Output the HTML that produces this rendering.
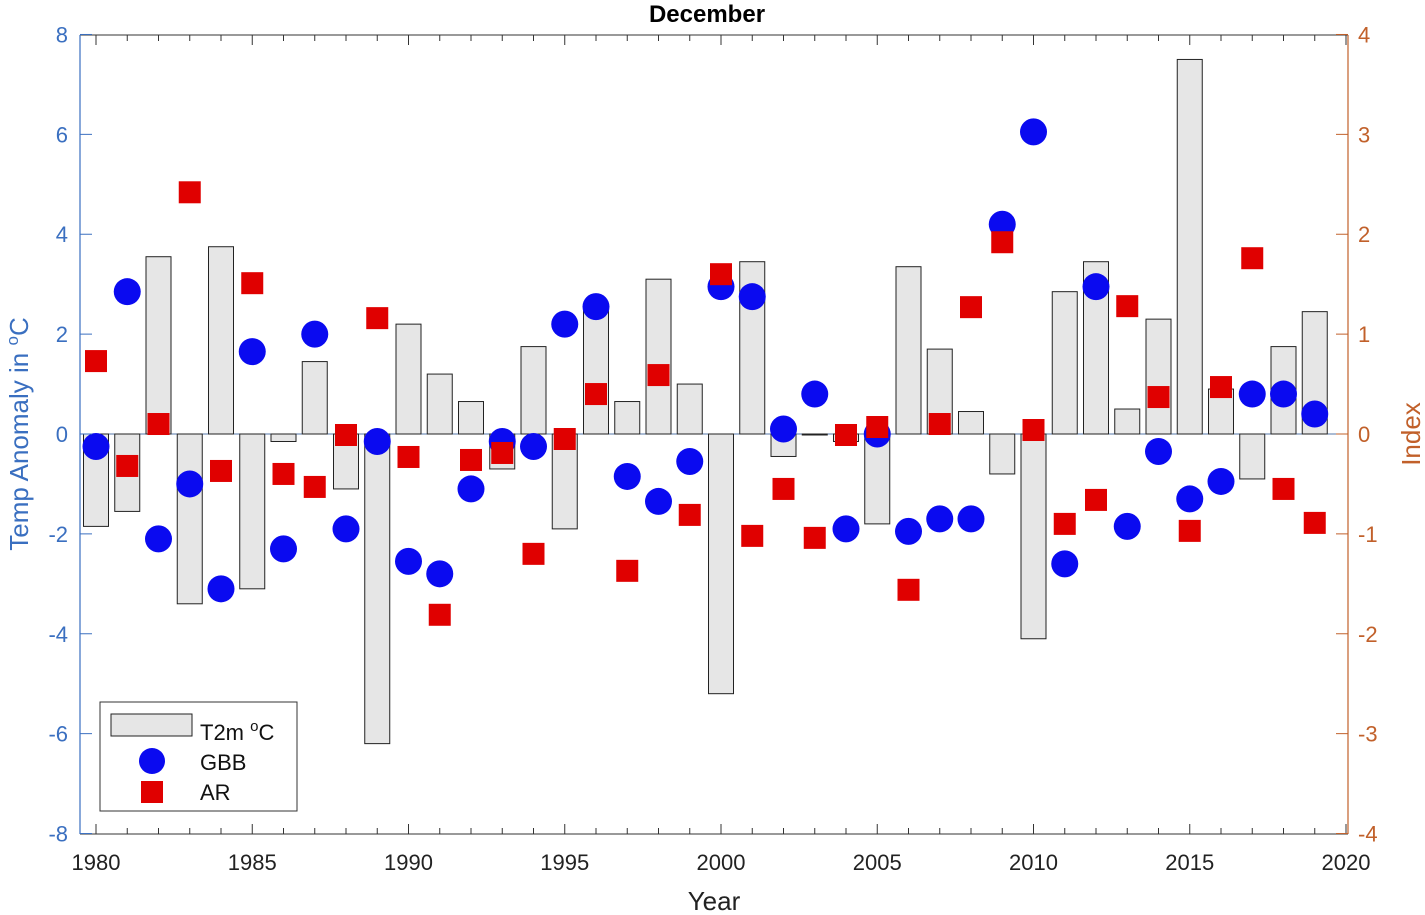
<!DOCTYPE html>
<html><head><meta charset="utf-8"><style>
body{margin:0;background:#fff;}
svg{display:block;font-family:"Liberation Sans",sans-serif;}
</style></head><body>
<svg id="chart" width="1425" height="915"></svg>
<script>
const years=[];for(let y=1980;y<=2019;y++)years.push(y);
const t2m=[-1.85,-1.55,3.55,-3.4,3.75,-3.1,-0.15,1.45,-1.1,-6.2,2.2,1.2,0.65,-0.7,1.75,-1.9,2.55,0.65,3.1,1.0,-5.2,3.45,-0.45,-0.02,-0.15,-1.8,3.35,1.7,0.45,-0.8,-4.1,2.85,3.45,0.5,2.3,7.5,0.9,-0.9,1.75,2.45];
const gbb=[-0.25,2.85,-2.1,-1.0,-3.1,1.65,-2.3,2.0,-1.9,-0.15,-2.55,-2.8,-1.1,-0.15,-0.25,2.2,2.55,-0.85,-1.35,-0.55,2.95,2.75,0.1,0.8,-1.9,0,-1.95,-1.7,-1.7,4.2,6.05,-2.6,2.95,-1.85,-0.35,-1.3,-0.95,0.8,0.8,0.4];
const ar=[0.73,-0.32,0.1,2.42,-0.37,1.51,-0.4,-0.53,-0.01,1.16,-0.23,-1.81,-0.26,-0.19,-1.2,-0.05,0.4,-1.37,0.59,-0.81,1.6,-1.02,-0.55,-1.04,-0.01,0.07,-1.56,0.1,1.27,1.92,0.04,-0.9,-0.66,1.28,0.37,-0.97,0.47,1.76,-0.55,-0.89];
const xTicks=[1980,1985,1990,1995,2000,2005,2010,2015,2020];
const yLeftTicks=[-8,-6,-4,-2,0,2,4,6,8];
const yRightTicks=[-4,-3,-2,-1,0,1,2,3,4];
const L=80,R=1348,T=35,B=834;
const x=v=>96+(v-1980)*31.25;
const yl=v=>434-v*49.94;
const yr=v=>434-v*99.88;
const svg=document.getElementById('chart');
const NS='http://www.w3.org/2000/svg';
function mk(tag,attrs,parent){const e=document.createElementNS(NS,tag);for(const k in attrs)e.setAttribute(k,attrs[k]);(parent||svg).appendChild(e);return e;}
const blue='#3a6fc0',orange='#c1602a';
let bg=mk('rect',{x:L,y:T,width:R-L,height:B-T,fill:'#fff'});


// zero line
let zl=mk('line',{x1:L,x2:R,y1:yl(0),y2:yl(0),stroke:'#5577aa','stroke-width':1});


// bars
years.forEach((yy,i)=>{const v=t2m[i];const y0=yl(Math.max(v,0)),h=Math.abs(yl(v)-yl(0));
const b=mk('rect',{x:x(yy)-12.5,y:y0,width:25,height:Math.max(h,1),fill:'#e6e6e6',stroke:'#222','stroke-width':1});

});
// gbb
years.forEach((yy,i)=>{const c=mk('circle',{cx:x(yy),cy:yl(gbb[i]),r:13.5,fill:'#0a0af0'});

});
// ar
years.forEach((yy,i)=>{const s=mk('rect',{x:x(yy)-11,y:yr(ar[i])-11,width:22,height:22,fill:'#e00000'});

});
// axes box
mk('line',{x1:L,x2:R,y1:B,y2:B,stroke:'#333','stroke-width':1});
mk('line',{x1:L,x2:R,y1:T,y2:T,stroke:'#333','stroke-width':1});
mk('line',{x1:L,x2:L,y1:T,y2:B,stroke:blue,'stroke-width':1.2});
mk('line',{x1:R,x2:R,y1:T,y2:B,stroke:orange,'stroke-width':1.2});
for(let yy=1980;yy<=2020;yy++){mk('line',{x1:x(yy),x2:x(yy),y1:B,y2:B-(yy%5?6:10),stroke:'#333'});mk('line',{x1:x(yy),x2:x(yy),y1:T,y2:T+(yy%5?6:10),stroke:'#333'});}
xTicks.forEach(v=>{const t=mk('text',{x:x(v),y:870,'text-anchor':'middle','font-size':22,fill:'#222'});t.textContent=v;

});
yLeftTicks.forEach(v=>{mk('line',{x1:L,x2:L+12,y1:yl(v),y2:yl(v),stroke:blue});
const t=mk('text',{x:68,y:yl(v)+8,'text-anchor':'end','font-size':22,fill:blue});t.textContent=v;

});
yRightTicks.forEach(v=>{mk('line',{x1:R-12,x2:R,y1:yr(v),y2:yr(v),stroke:orange});
const t=mk('text',{x:1358,y:yr(v)+8,'font-size':22,fill:orange});t.textContent=v;

});
let ti=mk('text',{x:707,y:22,'text-anchor':'middle','font-size':24,'font-weight':'bold',fill:'#000'});ti.textContent='December';


let xt=mk('text',{x:714,y:910,'text-anchor':'middle','font-size':26,fill:'#222'});xt.textContent='Year';


let yt=mk('text',{transform:'translate(28,434) rotate(-90)','text-anchor':'middle','font-size':26,fill:blue});
yt.innerHTML='Temp Anomaly in <tspan dy="-10" font-size="17">o</tspan><tspan dy="10">C</tspan>';


let yt2=mk('text',{transform:'translate(1420,434) rotate(-90)','text-anchor':'middle','font-size':26,fill:orange});yt2.textContent='Index';


// legend
const lg=mk('g',{});


mk('rect',{x:100,y:702,width:197,height:109,fill:'#fff',stroke:'#333'},lg);
mk('rect',{x:111,y:714,width:81,height:22,fill:'#e6e6e6',stroke:'#222'},lg);
let l1=mk('text',{x:200,y:740,'font-size':22,fill:'#111'},lg);l1.innerHTML='T2m <tspan dy="-9" font-size="15">o</tspan><tspan dy="9">C</tspan>';
mk('circle',{cx:152,cy:761,r:13,fill:'#0a0af0'},lg);
let l2=mk('text',{x:200,y:770,'font-size':22,fill:'#111'},lg);l2.textContent='GBB';
mk('rect',{x:141,y:781,width:22,height:22,fill:'#e00000'},lg);
let l3=mk('text',{x:200,y:800,'font-size':22,fill:'#111'},lg);l3.textContent='AR';
</script>
</body></html>
